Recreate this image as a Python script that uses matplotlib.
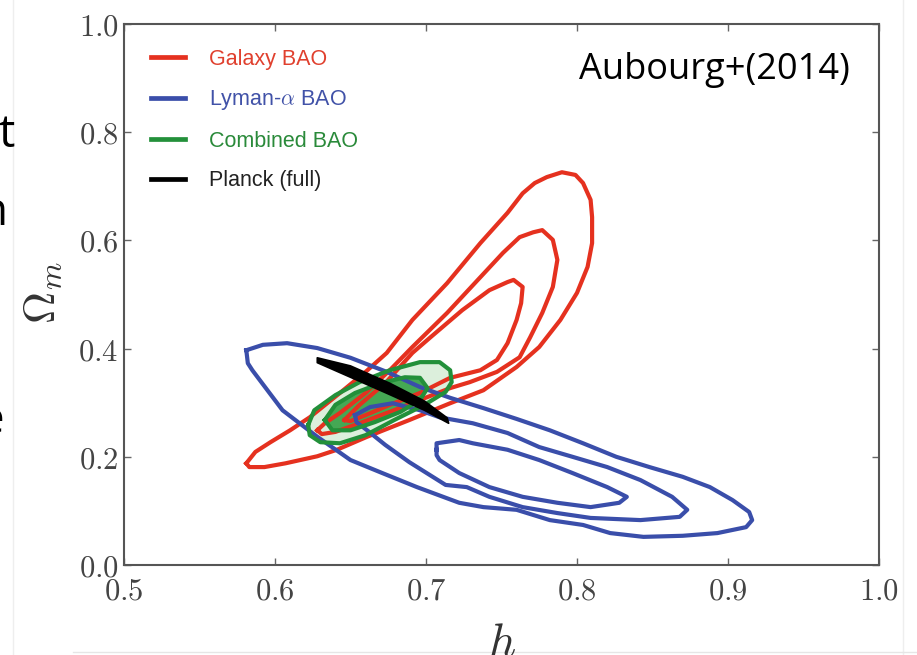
import numpy as np
import matplotlib
matplotlib.use("Agg")
import matplotlib.pyplot as plt
from matplotlib.lines import Line2D

plt.rcParams['mathtext.fontset'] = 'cm'

# ---- contour outlines (h, Omega_m) ----
# Galaxy BAO: outer, middle, inner
gal_out_h = [0.581, 0.587, 0.597, 0.610, 0.623, 0.643, 0.660, 0.674, 0.691, 0.714, 0.736, 0.754,
             0.764, 0.772, 0.780, 0.790, 0.799, 0.804, 0.809, 0.810, 0.810, 0.807, 0.800, 0.789,
             0.775, 0.760, 0.738, 0.716, 0.689, 0.661, 0.641, 0.628, 0.607, 0.593, 0.583]
gal_out_om = [0.188, 0.209, 0.227, 0.249, 0.273, 0.318, 0.357, 0.392, 0.453, 0.521, 0.595, 0.651,
              0.687, 0.706, 0.717, 0.726, 0.721, 0.706, 0.675, 0.643, 0.595, 0.551, 0.503, 0.453,
              0.403, 0.366, 0.323, 0.299, 0.268, 0.237, 0.213, 0.201, 0.188, 0.181, 0.181]
gal_mid_h = [0.628, 0.633, 0.643, 0.660, 0.676, 0.691, 0.714, 0.736, 0.751, 0.762, 0.771, 0.777,
             0.784, 0.787, 0.784, 0.777, 0.769, 0.762, 0.747, 0.729, 0.716, 0.696, 0.676, 0.656,
             0.640, 0.631]
gal_mid_om = [0.249, 0.262, 0.281, 0.318, 0.360, 0.403, 0.466, 0.532, 0.577, 0.606, 0.615, 0.619,
              0.601, 0.564, 0.514, 0.466, 0.421, 0.384, 0.357, 0.338, 0.327, 0.305, 0.283, 0.262,
              0.246, 0.242]
gal_in_h = [0.646, 0.656, 0.673, 0.691, 0.703, 0.724, 0.742, 0.754, 0.758, 0.764, 0.763, 0.760,
            0.754, 0.747, 0.736, 0.716, 0.696, 0.676, 0.660, 0.650]
gal_in_om = [0.268, 0.296, 0.336, 0.392, 0.421, 0.471, 0.508, 0.523, 0.527, 0.514, 0.484, 0.453,
             0.410, 0.379, 0.360, 0.346, 0.318, 0.296, 0.277, 0.266]

# Lyman-alpha BAO: outer, middle, inner
lya_out_h = [0.581, 0.592, 0.608, 0.628, 0.650, 0.674, 0.696, 0.716, 0.738, 0.760, 0.782, 0.804,
             0.826, 0.848, 0.870, 0.888, 0.903, 0.914, 0.916, 0.912, 0.893, 0.870, 0.844, 0.822,
             0.804, 0.782, 0.760, 0.738, 0.722, 0.694, 0.671, 0.650, 0.628, 0.605, 0.585, 0.582]
lya_out_om = [0.397, 0.407, 0.410, 0.401, 0.383, 0.357, 0.329, 0.309, 0.290, 0.270, 0.249, 0.225,
              0.200, 0.181, 0.163, 0.144, 0.120, 0.098, 0.083, 0.070, 0.059, 0.054, 0.052, 0.059,
              0.074, 0.083, 0.102, 0.107, 0.115, 0.144, 0.170, 0.194, 0.237, 0.286, 0.360, 0.373]
lya_mid_h = [0.653, 0.663, 0.678, 0.696, 0.709, 0.731, 0.754, 0.775, 0.797, 0.820, 0.842, 0.863,
             0.873, 0.868, 0.842, 0.809, 0.787, 0.764, 0.742, 0.727, 0.713, 0.689, 0.673, 0.661,
             0.654]
lya_mid_om = [0.277, 0.292, 0.299, 0.286, 0.273, 0.262, 0.244, 0.218, 0.200, 0.181, 0.157, 0.126,
              0.102, 0.089, 0.083, 0.087, 0.096, 0.107, 0.126, 0.144, 0.148, 0.190, 0.222, 0.249,
              0.264]
lya_in_h = [0.707, 0.707, 0.722, 0.731, 0.754, 0.775, 0.797, 0.820, 0.833, 0.828, 0.809, 0.787,
            0.764, 0.742, 0.722, 0.709, 0.707]
lya_in_om = [0.213, 0.225, 0.231, 0.225, 0.213, 0.194, 0.170, 0.144, 0.126, 0.115, 0.107, 0.115,
             0.126, 0.144, 0.170, 0.194, 0.203]

# Combined BAO: outer and inner
comb_out_h = [0.622, 0.626, 0.640, 0.656, 0.676, 0.696, 0.709, 0.716, 0.717, 0.713, 0.699, 0.679,
              0.660, 0.643, 0.630, 0.623]
comb_out_om = [0.259, 0.286, 0.314, 0.338, 0.360, 0.375, 0.375, 0.360, 0.338, 0.320, 0.296, 0.268,
               0.240, 0.225, 0.227, 0.240]
comb_in_h = [0.633, 0.640, 0.653, 0.670, 0.686, 0.696, 0.701, 0.696, 0.683, 0.666, 0.650, 0.638]
comb_in_om = [0.268, 0.296, 0.318, 0.336, 0.347, 0.346, 0.327, 0.305, 0.283, 0.264, 0.249, 0.249]

# Planck (full): narrow band
planck_h = [0.628, 0.650, 0.676, 0.699, 0.714, 0.715, 0.699, 0.676, 0.650, 0.628]
planck_om = [0.383, 0.368, 0.336, 0.303, 0.272, 0.262, 0.286, 0.315, 0.347, 0.374]

labels = ['Galaxy BAO', r'Lyman-$\alpha$ BAO', 'Combined BAO', 'Planck (full)']
x_ticks = [0.5, 0.6, 0.7, 0.8, 0.9, 1.0]
y_ticks = [0.0, 0.2, 0.4, 0.6, 0.8, 1.0]

red = '#e5311f'
blue = '#3a4eaa'
green = '#23903a'
line_w = 3.0


def closed(xs, ys):
    return list(xs) + [xs[0]], list(ys) + [ys[0]]


fig = plt.figure(figsize=(9.17, 6.55), dpi=100)
fig.patch.set_facecolor('white')
ax = fig.add_axes([124 / 917, 1 - 565 / 655, 755 / 917, 541 / 655])

# green fills underneath
ax.fill(comb_out_h, comb_out_om, color='#dcefdc', zorder=1, lw=0)
ax.fill(comb_in_h, comb_in_om, color='#45a854', zorder=1, lw=0)

for xs, ys in [(gal_out_h, gal_out_om), (gal_mid_h, gal_mid_om), (gal_in_h, gal_in_om)]:
    cx, cy = closed(xs, ys)
    ax.plot(cx, cy, color=red, lw=line_w, solid_joinstyle='round', zorder=2)
for xs, ys in [(lya_out_h, lya_out_om), (lya_mid_h, lya_mid_om), (lya_in_h, lya_in_om)]:
    cx, cy = closed(xs, ys)
    ax.plot(cx, cy, color=blue, lw=line_w, solid_joinstyle='round', zorder=2)
for xs, ys in [(comb_out_h, comb_out_om), (comb_in_h, comb_in_om)]:
    cx, cy = closed(xs, ys)
    ax.plot(cx, cy, color=green, lw=line_w, solid_joinstyle='round', zorder=3)
ax.fill(planck_h, planck_om, color='black', lw=1.2, ec='black', joinstyle='round', zorder=4)

ax.set_xlim(0.5, 1.0)
ax.set_ylim(0.0, 1.0)
ax.set_xticks(x_ticks)
ax.set_yticks(y_ticks)
ax.set_xticklabels([r'$%.1f$' % v for v in x_ticks])
ax.set_yticklabels([r'$%.1f$' % v for v in y_ticks])
ax.tick_params(direction='in', length=5, width=1, color='#666666', labelsize=22,
               labelcolor='#444444', top=True, right=True)
ax.tick_params(axis='x', pad=8)
ax.tick_params(axis='y', pad=4)
for sp in ax.spines.values():
    sp.set_color('#555555')
    sp.set_linewidth(1.5)

handles = [Line2D([], [], color=c, lw=3.4) for c in [red, blue, green, 'black']]
leg = ax.legend(handles, labels, loc='upper left', bbox_to_anchor=(0.01, 0.99), frameon=False,
                prop={'family': 'Liberation Sans', 'size': 15.5}, handlelength=1.6,
                handletextpad=1.1, labelspacing=0.86)
for t, c in zip(leg.get_texts(), ['#e0402e', '#4152a8', '#2a8a3a', '#222222']):
    t.set_color(c)

# axis labels
fig.text(42 / 917, 1 - 293 / 655, r'$\Omega_m$', rotation=90, ha='center', va='center',
         fontsize=32, color='#333333')
fig.text(502 / 917, 1 - 656 / 655, r'$h$', ha='center', va='baseline', fontsize=34,
         color='#333333')

# slide annotation and cropped slide text
fig.text(579 / 917, 1 - 79 / 655, 'Aubourg+(2014)', ha='left', va='baseline',
         fontsize=26, family='Open Sans', color='black')
for s, xr, yb in [('t', 15, 147), ('n', 7, 225), ('e', 4, 433)]:
    fig.text(xr / 917, 1 - yb / 655, s, ha='right', va='baseline', fontsize=33,
             family='Open Sans', color='black')

# faint slide edges
fig.add_artist(Line2D([13 / 917, 13 / 917], [0, 1], color='#eeeeee', lw=1))
fig.add_artist(Line2D([903 / 917, 903 / 917], [0, 1], color='#eeeeee', lw=1))
fig.add_artist(Line2D([0.08, 1], [1 - 652 / 655, 1 - 652 / 655], color='#e6e6e6', lw=1))

fig.savefig('out.png', dpi=100, facecolor='white')
